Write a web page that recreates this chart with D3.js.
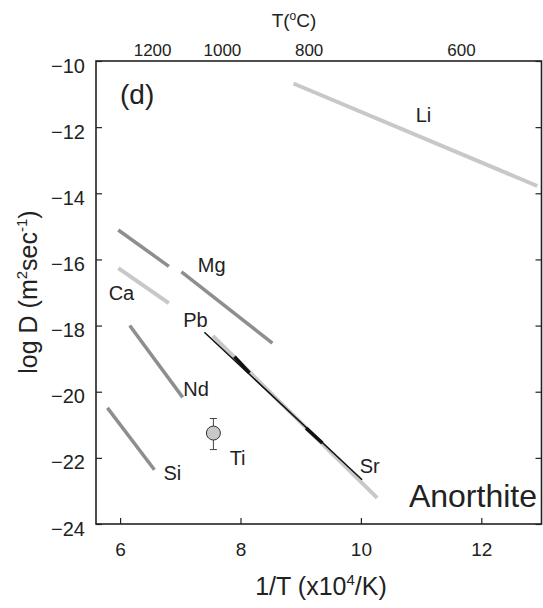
<!DOCTYPE html>
<html>
<head>
<meta charset="utf-8">
<script src="https://cdnjs.cloudflare.com/ajax/libs/d3/7.8.5/d3.min.js"></script>
<style>
  body { margin: 0; background: #fff; }
  svg { font-family: Arial, "Liberation Sans", sans-serif; }
</style>
</head>
<body>
<div id="chart-area"></div>
<script>
// diffusion lines, in 1/T (x10^4/K) and log D
var grayLines = [
  { name: "Mg1", pts: [[5.97, -15.11], [6.81, -16.21]] },
  { name: "Mg2", pts: [[7.02, -16.38], [8.53, -18.53]] },
  { name: "Nd", pts: [[6.16, -18.00], [7.04, -20.17]] },
  { name: "Si", pts: [[5.79, -20.49], [6.57, -22.36]] }
];
var lightLines = [
  { name: "Li", pts: [[8.88, -10.68], [12.93, -13.78]] },
  { name: "Ca", pts: [[5.97, -16.26], [6.81, -17.32]] },
  { name: "Sr", pts: [[7.54, -18.31], [10.27, -23.21]] }
];
var pbLine = [[7.40, -18.20], [10.02, -22.66]];
var pbThick = [
  [[7.90, -18.94], [8.15, -19.43]],
  [[9.09, -21.10], [9.36, -21.55]]
];
// Ti point with error bar
var tiPoint = { x: 7.55, y: -21.25, lo: -21.75, hi: -20.81 };

var xTicks = [6, 8, 10, 12];
var yTicks = [-10, -12, -14, -16, -18, -20, -22, -24];
// top T(oC) labels, placed at 1/T positions as drawn
var topLabels = [
  { x: 6.54, label: "1200" },
  { x: 7.70, label: "1000" },
  { x: 9.14, label: "800" },
  { x: 11.67, label: "600" }
];
var elementLabels = [
  { text: "Li", x: 10.91, y: -11.84 },
  { text: "Mg", x: 7.29, y: -16.38 },
  { text: "Ca", x: 5.81, y: -17.23 },
  { text: "Pb", x: 7.05, y: -18.04 },
  { text: "Nd", x: 7.05, y: -20.13 },
  { text: "Ti", x: 7.82, y: -22.22 },
  { text: "Si", x: 6.72, y: -22.67 },
  { text: "Sr", x: 9.98, y: -22.46 }
];

var svgWidth = 543;
var svgHeight = 608;
var margin = { top: 61, right: 1.5, bottom: 84, left: 96 };

var svg = d3.select("#chart-area").append("svg")
  .attr("width", svgWidth)
  .attr("height", svgHeight);

var x = d3.scaleLinear()
  .domain([5.6, 13.0])
  .range([margin.left, svgWidth - margin.right]);

var y = d3.scaleLinear()
  .domain([-24, -10])
  .range([svgHeight - margin.bottom, margin.top]);

var line = d3.line()
  .x(d => x(d[0]))
  .y(d => y(d[1]));

// lines
svg.append("g")
  .selectAll("path")
  .data(lightLines)
  .join("path")
    .attr("d", d => line(d.pts))
    .attr("fill", "none")
    .attr("stroke", "#c8c8c8")
    .attr("stroke-width", 4);

svg.append("g")
  .selectAll("path")
  .data(grayLines)
  .join("path")
    .attr("d", d => line(d.pts))
    .attr("fill", "none")
    .attr("stroke", "#8e8e8e")
    .attr("stroke-width", 3.5);

svg.append("path")
  .attr("d", line(pbLine))
  .attr("fill", "none")
  .attr("stroke", "#111")
  .attr("stroke-width", 1.5);

svg.append("g")
  .selectAll("path")
  .data(pbThick)
  .join("path")
    .attr("d", d => line(d))
    .attr("fill", "none")
    .attr("stroke", "#111")
    .attr("stroke-width", 3.5);

// Ti error bar + point
var ti = svg.append("g").attr("stroke", "#444").attr("stroke-width", 1);
ti.append("line")
  .attr("x1", x(tiPoint.x)).attr("x2", x(tiPoint.x))
  .attr("y1", y(tiPoint.hi)).attr("y2", y(tiPoint.lo));
[tiPoint.hi, tiPoint.lo].forEach(function(v) {
  ti.append("line")
    .attr("x1", x(tiPoint.x) - 3.5).attr("x2", x(tiPoint.x) + 3.5)
    .attr("y1", y(v)).attr("y2", y(v));
});
ti.append("circle")
  .attr("cx", x(tiPoint.x))
  .attr("cy", y(tiPoint.y))
  .attr("r", 7)
  .attr("fill", "#c8c8c8")
  .attr("stroke", "#333");

// frame
svg.append("rect")
  .attr("x", x(5.6))
  .attr("y", y(-10))
  .attr("width", x(13) - x(5.6))
  .attr("height", y(-24) - y(-10))
  .attr("fill", "none")
  .attr("stroke", "#222")
  .attr("stroke-width", 1.6);

// axes, ticks pointing inward
svg.append("g")
  .attr("transform", `translate(0,${y(-24)})`)
  .call(d3.axisBottom(x).tickValues(xTicks).tickSize(-6).tickPadding(12))
  .call(g => g.select(".domain").remove())
  .call(g => g.selectAll(".tick line").attr("stroke", "#222").attr("stroke-width", 1.2))
  .call(g => g.selectAll(".tick text").attr("font-size", 19).attr("fill", "#222").attr("dy", "1.05em"));

svg.append("g")
  .attr("transform", `translate(${x(5.6)},0)`)
  .call(d3.axisLeft(y).tickValues(yTicks).tickSize(-6).tickPadding(11))
  .call(g => g.select(".domain").remove())
  .call(g => g.selectAll(".tick line").attr("stroke", "#222").attr("stroke-width", 1.2))
  .call(g => g.selectAll(".tick text").attr("font-size", 20).attr("fill", "#222").attr("dy", "0.55em"));

svg.append("g")
  .attr("transform", `translate(${x(13)},0)`)
  .call(d3.axisRight(y).tickValues(yTicks).tickSize(-6).tickFormat(""))
  .call(g => g.select(".domain").remove())
  .call(g => g.selectAll(".tick line").attr("stroke", "#222").attr("stroke-width", 1.2));

// top temperature labels
svg.append("g")
  .selectAll("text")
  .data(topLabels)
  .join("text")
    .attr("x", d => x(d.x))
    .attr("y", 56)
    .attr("text-anchor", "middle")
    .attr("font-size", 17)
    .attr("fill", "#222")
    .text(d => d.label);

var tTitle = svg.append("text")
  .attr("x", 294)
  .attr("y", 27)
  .attr("text-anchor", "middle")
  .attr("font-size", 19)
  .attr("fill", "#222");
tTitle.append("tspan").text("T(");
tTitle.append("tspan").attr("font-size", 12).attr("dy", -7).text("o");
tTitle.append("tspan").attr("dy", 7).text("C)");

// axis titles
var xTitle = svg.append("text")
  .attr("x", 321)
  .attr("y", 595)
  .attr("text-anchor", "middle")
  .attr("font-size", 25)
  .attr("fill", "#222");
xTitle.append("tspan").text("1/T (x10");
xTitle.append("tspan").attr("font-size", 15).attr("dy", -10).text("4");
xTitle.append("tspan").attr("dy", 10).text("/K)");

var yTitle = svg.append("text")
  .attr("transform", "translate(37,292) rotate(-90)")
  .attr("text-anchor", "middle")
  .attr("font-size", 25)
  .attr("fill", "#222");
yTitle.append("tspan").text("log D (m");
yTitle.append("tspan").attr("font-size", 15).attr("dy", -10).text("2");
yTitle.append("tspan").attr("dy", 10).text("sec");
yTitle.append("tspan").attr("font-size", 15).attr("dy", -10).text("-1");
yTitle.append("tspan").attr("dy", 10).text(")");

// element labels
svg.append("g")
  .selectAll("text")
  .data(elementLabels)
  .join("text")
    .attr("x", d => x(d.x))
    .attr("y", d => y(d.y))
    .attr("font-size", 20)
    .attr("fill", "#222")
    .text(d => d.text);

svg.append("text")
  .attr("x", 120)
  .attr("y", 104)
  .attr("font-size", 28)
  .attr("fill", "#222")
  .text("(d)");

svg.append("text")
  .attr("x", 537)
  .attr("y", 507)
  .attr("text-anchor", "end")
  .attr("font-size", 32)
  .attr("fill", "#222")
  .text("Anorthite");
</script>
</body>
</html>
